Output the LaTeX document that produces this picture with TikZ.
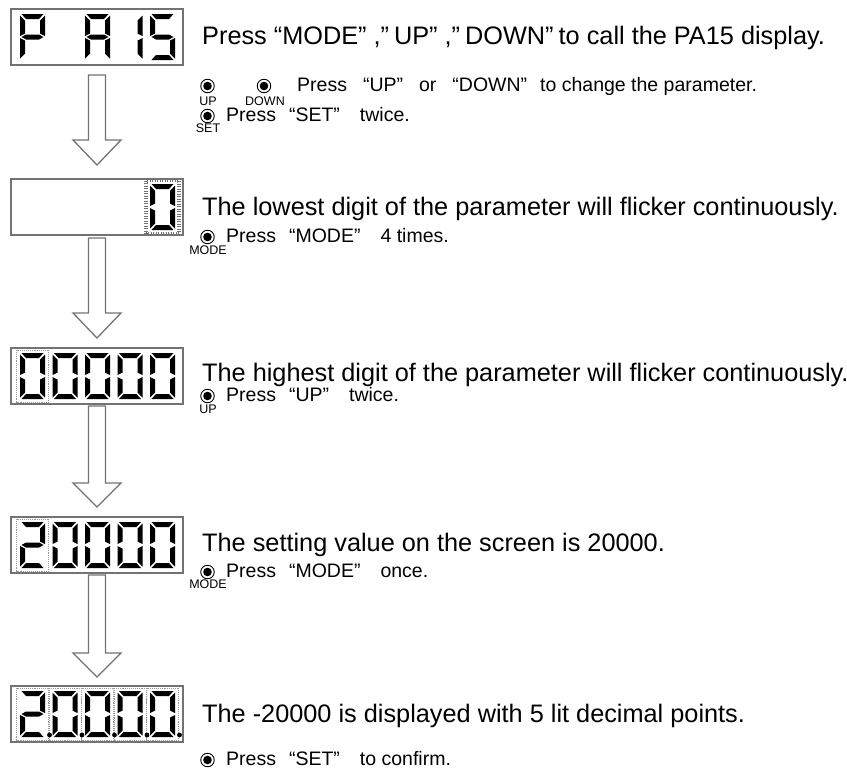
\documentclass[tikz,border=0pt]{standalone}
\usepackage{fontspec}
\setmainfont{Liberation Sans}
\newcommand\sgA{\fill (1.5,0)--(23.5,0)--(19,5)--(6,5)--cycle;}
\newcommand\sgB{\fill (25,1.5)--(20,6.5)--(20,19.5)--(25,22)--cycle;}
\newcommand\sgC{\fill (25,24)--(20,26.5)--(20,39.5)--(25,44.5)--cycle;}
\newcommand\sgD{\fill (1.5,46)--(6,41)--(19,41)--(23.5,46)--cycle;}
\newcommand\sgE{\fill (0,24)--(5,26.5)--(5,39.5)--(0,44.5)--cycle;}
\newcommand\sgF{\fill (0,1.5)--(5,6.5)--(5,19.5)--(0,22)--cycle;}
\newcommand\sgG{\fill (1.5,23)--(6,20.5)--(19,20.5)--(23.5,23)--(19,25.5)--(6,25.5)--cycle;}
\newcommand\sgP{\fill (29.5,44) circle (2.4);}
\newcommand\sgdigit[3]{\begin{scope}[shift={(#1,#2)}]\foreach \s in {#3}{\csname sg\s\endcsname}\end{scope}}
\newcommand\sgblink[2]{\draw[blink] (#1-3.5,#2-3) rectangle (#1+28.5,#2+49);}
\newcommand\sgrays[2]{\draw[rays] (#1-4,#2-3.5) rectangle (#1+29,#2+49.5);}
\newcommand\blockarrow[3]{\draw[hollow] (88.5,#1)--(105.5,#1)--(105.5,#2)--(121,#2)--(97,#3)--(73,#2)--(88.5,#2)--cycle;}
\newcommand\keybtn[3]{\node[keyring] (#1) at (#2,#3) {}; \fill (#1.center) circle (4.3pt);}
\newcommand\mygap{\hspace{16pt}}
\newcommand\mygapb{\hspace{13pt}}
\newcommand\mygapa{\hspace{20pt}}
\tikzset{
 box/.style={draw=black!55, line width=1.6pt, fill=white, minimum width=172pt, minimum height=56pt, inner sep=0pt, outer sep=0pt},
 hollow/.style={draw=black!55, line width=1.3pt, fill=white, line join=miter},
 maintxt/.style={anchor=west, inner sep=0pt, font=\fontsize{25.3}{30}\selectfont},
 smalltxt/.style={anchor=west, inner sep=0pt, font=\fontsize{19.5}{23}\selectfont},
 keylbl/.style={inner sep=0pt, font=\fontsize{12.5}{14}\selectfont},
 keyring/.style={circle, draw, line width=0.9pt, minimum size=13.5pt, inner sep=0pt},
 blink/.style={draw=black!40, densely dotted, line width=0.9pt},
 rays/.style={draw=black!55, line width=4pt, dash pattern=on 0.7pt off 1.8pt},
}
\begin{document}
\begin{tikzpicture}[x=1pt,y=-1pt]
\useasboundingbox (0,0) rectangle (847,769);
% display boxes
\node[box] (d1) at (97,37) {};
\node[box] (d2) at (97,207) {};
\node[box] (d3) at (97,376) {};
\node[box] (d4) at (97,545) {};
\node[box] (d5) at (97,714) {};
% box 1: P A 1 5
\sgdigit{20}{14}{A,B,E,F,G}
\sgdigit{85}{14}{A,B,C,E,F,G}
\sgdigit{117.5}{14}{B,C}
\sgdigit{150}{14}{A,F,G,C,D}
% box 2: lowest digit 0 flickering
\sgrays{150}{184}
\fill[white] (148,182) rectangle (177,232);
\sgdigit{150}{184}{A,B,C,D,E,F}
% box 3: 00000, first flickering
\sgblink{20}{353}
\foreach \x in {20,52.5,85,117.5,150}{\sgdigit{\x}{353}{A,B,C,D,E,F}}
% box 4: 20000
\sgblink{20}{522}
\sgdigit{20}{522}{A,B,G,E,D}
\foreach \x in {52.5,85,117.5,150}{\sgdigit{\x}{522}{A,B,C,D,E,F}}
% box 5: 20000 with decimal points
\foreach \x in {20,52.5,85,117.5,150}{\sgblink{\x}{691}}
\sgdigit{20}{691}{A,B,G,E,D,P}
\foreach \x in {52.5,85,117.5,150}{\sgdigit{\x}{691}{A,B,C,D,E,F,P}}
% block arrows
\blockarrow{75}{140}{165}
\blockarrow{238}{313}{338}
\blockarrow{406}{483}{507}
\blockarrow{575}{653}{677}
% main texts
\node[maintxt] (t1) at (202,38) {Press\hspace{7pt}“MODE” ,”\hspace{5pt}UP” ,”\hspace{5pt}DOWN”\hspace{5pt}to call the PA15 display.};
\node[maintxt] (t2) at (202,209) {The lowest digit of the parameter will flicker continuously.};
\node[maintxt] (t3) at (202,375) {The highest digit of the parameter will flicker continuously.};
\node[maintxt] (t4) at (202,545) {The setting value on the screen is 20000.};
\node[maintxt] (t5) at (202,716) {The -20000 is displayed with 5 lit decimal points.};
% keys
\keybtn{k1}{207.5}{86}
\keybtn{k2}{264}{86}
\keybtn{k3}{207.5}{116}
\keybtn{k4}{207.5}{237}
\keybtn{k5}{207.5}{396}
\keybtn{k6}{207.5}{572}
\keybtn{k7}{207.5}{760}
\node[keylbl] (l1) at (208,101) {UP};
\node[keylbl] (l2) at (265,101) {DOWN};
\node[keylbl] (l3) at (208,128) {SET};
\node[keylbl] (l4) at (208,250) {MODE};
\node[keylbl] (l5) at (208,409) {UP};
\node[keylbl] (l6) at (208,584) {MODE};
% small texts
\node[smalltxt] (s1) at (297,86) {Press\mygap“UP”\mygap{}or\mygap“DOWN”\mygapb{}to change the parameter.};
\node[smalltxt] (s2) at (226,115) {Press\mygapb“SET”\mygapa{}twice.};
\node[smalltxt] (s3) at (226,236) {Press\mygapb“MODE”\mygapa{}4 times.};
\node[smalltxt] (s4) at (226,395) {Press\mygapb“UP”\mygapa{}twice.};
\node[smalltxt] (s5) at (226,571) {Press\mygapb“MODE”\mygapa{}once.};
\node[smalltxt] (s6) at (226,759) {Press\mygapb“SET”\mygapa{}to confirm.};
\end{tikzpicture}
\end{document}
